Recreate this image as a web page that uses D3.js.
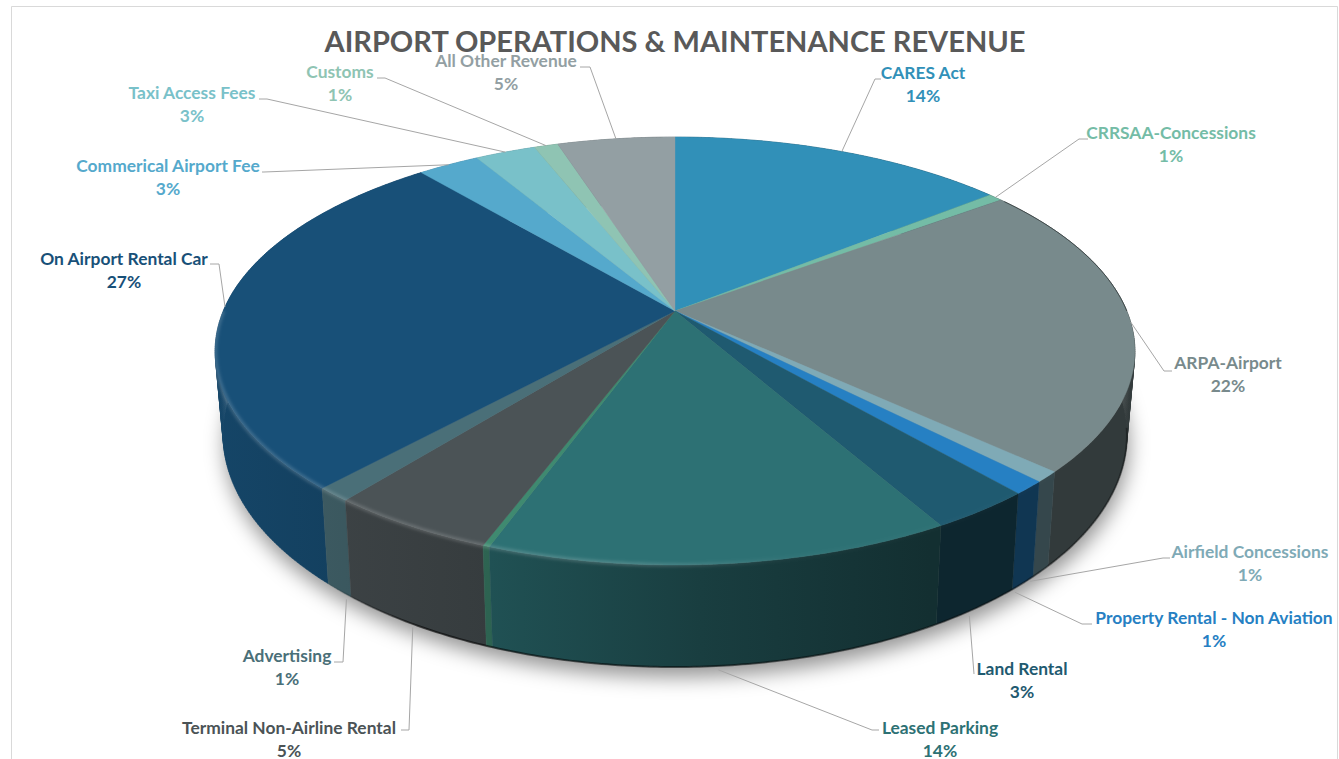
<!DOCTYPE html>
<html>
<head>
<meta charset="utf-8">
<script src="https://cdn.jsdelivr.net/npm/d3@7"></script>
<style>
  html, body { margin: 0; padding: 0; background: #fff; overflow: hidden; }
  svg { display: block; font-family: Lato, "Open Sans", sans-serif; }
</style>
</head>
<body>
<svg width="1339" height="759"></svg>
<script>
const chartTitle = "AIRPORT OPERATIONS & MAINTENANCE REVENUE";

// clockwise from 12 o'clock, the thin green one has no label in the original
const categories = [
  "CARES Act", "CRRSAA-Concessions", "ARPA-Airport", "Airfield Concessions",
  "Property Rental - Non Aviation", "Land Rental", "Leased Parking", null,
  "Terminal Non-Airline Rental", "Advertising", "On Airport Rental Car",
  "Commerical Airport Fee", "Taxi Access Fees", "Customs", "All Other Revenue",
];
const values = [14.2, 0.6, 22.1, 0.8, 1.0, 3.1, 13.7, 0.2, 5.0, 1.05, 27.15, 2.6, 2.55, 1.0, 4.95];
const colors = [
  "#3190b8", "#74bca6", "#788a8c", "#7faab6", "#2680c3", "#1f5a70", "#2d7174", "#3f8a70",
  "#4b5356", "#4a6f78", "#185078", "#55a9cc", "#79c1c9", "#8fc4b3", "#939fa3",
];

// label placement: text centre, first baseline, leader elbow and end, rim the leader starts on
const labelLayout = {
  "CARES Act": { x: 923, y: 79, elbow: [875, 79], end: [881, 79], rim: "top" },
  "CRRSAA-Concessions": { x: 1171, y: 139, elbow: [1079, 139], end: [1088, 139], rim: "top" },
  "ARPA-Airport": { x: 1228, y: 369, elbow: [1164, 371], end: [1172, 371], rim: "top" },
  "Airfield Concessions": { x: 1250, y: 558, elbow: [1163, 558], end: [1170, 558], rim: "bottom", nudge: [-11, 10] },
  "Property Rental - Non Aviation": { x: 1214, y: 624, elbow: [1082, 624], end: [1092, 624], rim: "bottom", nudge: [-8, 9] },
  "Land Rental": { x: 1022, y: 675, elbow: [974, 674], end: [974, 674], rim: "bottom", nudge: [-7, 8] },
  "Leased Parking": { x: 940, y: 734, elbow: [872, 730], end: [879, 730], rim: "bottom", nudge: [-3, 4] },
  "Terminal Non-Airline Rental": { x: 289, y: 734, elbow: [409, 730], end: [401, 730], rim: "bottom", nudge: [-1, 3] },
  "Advertising": { x: 287, y: 662, elbow: [343, 662], end: [334, 662], rim: "bottom", nudge: [7, 9] },
  "On Airport Rental Car": { x: 124, y: 265, elbow: [219, 264], end: [210, 264], rim: "top" },
  "Commerical Airport Fee": { x: 168, y: 172, elbow: [264, 172], end: [262, 172], rim: "top" },
  "Taxi Access Fees": { x: 192, y: 99, elbow: [267, 99], end: [259, 99], rim: "top" },
  "Customs": { x: 340, y: 78, elbow: [385, 78], end: [377, 78], rim: "top" },
  "All Other Revenue": { x: 506, y: 67, elbow: [590, 67], end: [580, 67], rim: "top" },
};

// Perspective of the pie: the apex sits above the centre of the rim ellipse
const cx = 675;
const apexY = 311;
const persp = { a: 206.5, b: 451.8, k: -0.187 };
const topCy = 351;
const bottomCy = 435;
const bottomSx = 452 / 460;
const bottomSy = 232 / 214;

function rimTop(theta) {
  const u = Math.sin(theta);
  const v = -Math.cos(theta);
  const w = 1 + persp.k * v;
  return [cx + (persp.b * u) / w, apexY + (persp.a * v) / w];
}

function rimBottom(theta) {
  const [x, y] = rimTop(theta);
  return [cx + (x - cx) * bottomSx, bottomCy + (y - topCy) * bottomSy];
}

function sweep(a0, a1) {
  const n = Math.max(2, Math.ceil((a1 - a0) / 0.01));
  return d3.range(n + 1).map((i) => a0 + ((a1 - a0) * i) / n);
}

const svg = d3.select("svg");
const defs = svg.append("defs");
const line = d3.line();

const blur = (id, sd) =>
  defs
    .append("filter")
    .attr("id", id)
    .attr("x", "-20%")
    .attr("y", "-20%")
    .attr("width", "140%")
    .attr("height", "140%")
    .append("feGaussianBlur")
    .attr("stdDeviation", sd);
blur("softShadow", 10);
blur("softRim", 1.8);

const slices = d3
  .pie()
  .sort(null)
  .value((d) => d)
  .startAngle(0)
  .endAngle(2 * Math.PI)(values)
  .map((s, i) => ({
    ...s,
    name: categories[i],
    color: colors[i],
    mid: (s.startAngle + s.endAngle) / 2,
    id: i,
  }));

// Side wall gets darker from left to right
const sideShade = d3
  .scaleLinear()
  .domain([215, 490, 700, 930, 1135])
  .range([0.86, 0.72, 0.55, 0.42, 0.42]);

slices.forEach((s) => {
  const grad = defs
    .append("linearGradient")
    .attr("id", `side${s.id}`)
    .attr("gradientUnits", "userSpaceOnUse")
    .attr("x1", 215)
    .attr("x2", 1135)
    .attr("y1", 0)
    .attr("y2", 0);
  const base = d3.rgb(s.color);
  sideShade.domain().forEach((x) => {
    const f = sideShade(x);
    grad
      .append("stop")
      .attr("offset", (x - 215) / 920)
      .attr("stop-color", d3.rgb(base.r * f, base.g * f, base.b * f).formatHex());
  });
});

const rimGrad = defs
  .append("linearGradient")
  .attr("id", "rimLight")
  .attr("gradientUnits", "userSpaceOnUse")
  .attr("x1", 215)
  .attr("x2", 1135)
  .attr("y1", 0)
  .attr("y2", 0);
[[0, 0.16], [0.45, 0.16], [0.62, 0.03], [1, 0]].forEach(([o, a]) =>
  rimGrad.append("stop").attr("offset", o).attr("stop-color", "#fff").attr("stop-opacity", a)
);

const edgeGrad = defs
  .append("linearGradient")
  .attr("id", "bottomEdge")
  .attr("gradientUnits", "userSpaceOnUse")
  .attr("x1", 215)
  .attr("x2", 1135)
  .attr("y1", 0)
  .attr("y2", 0);
[[0, 0], [0.12, 0], [0.22, 0.6], [1, 0.35]].forEach(([o, a]) =>
  edgeGrad.append("stop").attr("offset", o).attr("stop-color", "#000").attr("stop-opacity", a)
);

// Chart frame
svg
  .append("path")
  .attr("d", line([[11.5, 770], [11.5, 6.5], [1337.5, 6.5], [1337.5, 770]]))
  .attr("fill", "none")
  .attr("stroke", "#d9d9d9")
  .attr("stroke-width", 1);

// Drop shadow under the wall
svg
  .append("path")
  .attr("d", line(sweep(0, 2 * Math.PI).map(rimBottom).map(([x, y]) => [x + 2, y + 10])) + "Z")
  .attr("fill", "#000")
  .attr("fill-opacity", 0.42)
  .attr("filter", "url(#softShadow)");

// Side walls, back ones first. One quad per step so the silhouette stays filled
function wallPath(d) {
  const angles = sweep(d.startAngle, d.endAngle);
  return d3
    .pairs(angles)
    .map(([a, b]) => line([rimTop(a), rimTop(b), rimBottom(b), rimBottom(a)]) + "Z")
    .join("");
}

svg
  .append("g")
  .selectAll("path")
  .data(slices.slice().sort((a, b) => rimBottom(a.mid)[1] - rimBottom(b.mid)[1]))
  .join("path")
  .attr("d", wallPath)
  .attr("fill", (d) => `url(#side${d.id})`)
  .attr("stroke", (d) => `url(#side${d.id})`)
  .attr("stroke-width", 0.4);

// Dark line along the foot of the wall
svg
  .append("path")
  .attr("d", line(sweep(Math.PI * 0.55, Math.PI * 1.45).map(rimBottom)))
  .attr("fill", "none")
  .attr("stroke", "url(#bottomEdge)")
  .attr("stroke-width", 2);

// Top face
svg
  .append("g")
  .selectAll("path")
  .data(slices)
  .join("path")
  .attr("d", (d) => line([[cx, apexY], ...sweep(d.startAngle, d.endAngle).map(rimTop)]) + "Z")
  .attr("fill", (d) => d.color)
  .attr("stroke", (d) => d.color)
  .attr("stroke-width", 0.4);

// Bevel highlight on the front rim
svg
  .append("path")
  .attr("d", line(sweep(Math.PI * 0.5, Math.PI * 1.5).map(rimTop)))
  .attr("fill", "none")
  .attr("stroke", "url(#rimLight)")
  .attr("stroke-width", 4)
  .attr("filter", "url(#softRim)");

// Thin dark edge at the upper right
svg
  .append("path")
  .attr("d", line(sweep(Math.PI * 0.3, Math.PI * 0.5).map(rimTop)))
  .attr("fill", "none")
  .attr("stroke", "#2b3233")
  .attr("stroke-opacity", 0.7)
  .attr("stroke-width", 1);

const labelled = slices.filter((d) => d.name);

// Leader lines
svg
  .append("g")
  .selectAll("path")
  .data(labelled)
  .join("path")
  .attr("d", (d) => {
    const pos = labelLayout[d.name];
    const p = pos.rim === "top" ? rimTop(d.mid) : rimBottom(d.mid);
    const [dx, dy] = pos.nudge || [0, 0];
    return line([[p[0] + dx, p[1] + dy], pos.elbow, pos.end]);
  })
  .attr("fill", "none")
  .attr("stroke", "#a6a6a6")
  .attr("stroke-width", 1);

// Labels
const pct = d3.format(".0f");
const labels = svg
  .append("g")
  .attr("font-size", "17.4px")
  .attr("font-weight", 700)
  .attr("text-anchor", "middle")
  .selectAll("text")
  .data(labelled)
  .join("text")
  .attr("fill", (d) => d.color);

labels
  .append("tspan")
  .attr("x", (d) => labelLayout[d.name].x)
  .attr("y", (d) => labelLayout[d.name].y)
  .text((d) => d.name);

labels
  .append("tspan")
  .attr("x", (d) => labelLayout[d.name].x)
  .attr("y", (d) => labelLayout[d.name].y + 23)
  .text((d) => pct(d.value) + "%");

// Title goes last, the All Other label runs into it in the original
svg
  .append("text")
  .attr("x", 675)
  .attr("y", 52)
  .attr("text-anchor", "middle")
  .attr("fill", "#595959")
  .attr("font-size", "29px")
  .attr("font-weight", 700)
  .text(chartTitle);
</script>
</body>
</html>
